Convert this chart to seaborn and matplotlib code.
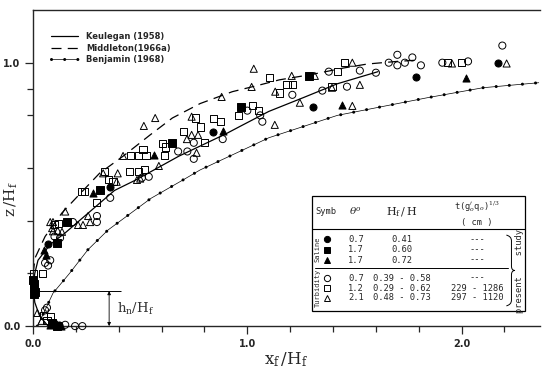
import matplotlib
matplotlib.use("Agg")
import matplotlib.pyplot as plt
from matplotlib.path import Path
from matplotlib.patches import PathPatch, Rectangle
import pandas as pd
import seaborn as sns

# theoretical profiles (x_f/H_f, z/H_f)
keulegan_x = [0.07, 0.03, 0.008, 0.0, 0.008, 0.023, 0.08, 0.15, 0.28, 0.38, 0.48, 0.68, 0.90, 0.97, 1.10, 1.26, 1.42, 1.61]
keulegan_y = [0.0, 0.04, 0.09, 0.15, 0.20, 0.25, 0.31, 0.354, 0.445, 0.515, 0.555, 0.645, 0.73, 0.76, 0.815, 0.867, 0.92, 0.966]

middleton_x = [0.0, 0.01, 0.056, 0.135, 0.228, 0.31, 0.42, 0.545, 0.65, 0.78, 0.93, 1.06, 1.15, 1.305, 1.45, 1.56, 1.70, 1.80]
middleton_y = [0.20, 0.26, 0.34, 0.43, 0.51, 0.58, 0.645, 0.725, 0.79, 0.845, 0.89, 0.916, 0.935, 0.956, 0.98, 0.995, 1.005, 1.01]

benjamin_x = [0.02, 0.05, 0.093, 0.17, 0.256, 0.35, 0.55, 0.70, 0.78, 1.03, 1.10, 1.42, 1.84, 2.10, 2.36]
benjamin_y = [0.0, 0.05, 0.125, 0.20, 0.29, 0.365, 0.485, 0.555, 0.593, 0.688, 0.715, 0.80, 0.867, 0.905, 0.924]

# measured points
saline_07_x = [2.17, 1.785, 1.305, 0.84, 0.36, 0.07, 0.10, 0.12]
saline_07_y = [1.0, 0.947, 0.833, 0.738, 0.527, 0.31, 0.01, 0.005]

saline_17sq_x = [1.287, 0.97, 0.648, 0.312, 0.16, 0.11, 0.0, 0.003, 0.005, 0.008, 0.004, 0.09, 0.11]
saline_17sq_y = [0.95, 0.833, 0.696, 0.517, 0.395, 0.315, 0.175, 0.16, 0.145, 0.13, 0.12, 0.01, 0.0]

saline_17tr_x = [2.02, 1.44, 0.885, 0.565, 0.28, 0.05, 0.06, 0.08, 0.13]
saline_17tr_y = [0.943, 0.84, 0.742, 0.65, 0.505, 0.29, 0.27, 0.005, 0.0]

turb_07_x = [2.19, 2.03, 1.91, 1.81, 1.70, 1.77, 1.70, 1.66, 1.735, 1.525, 1.60, 1.38, 1.21, 1.35, 1.465,
             1.0, 1.07, 1.06, 0.885, 0.75, 0.75, 0.72, 0.677, 0.54, 0.508, 0.36, 0.298, 0.298, 0.186,
             0.10, 0.126, 0.08, 0.07, 0.056, 0.065, 0.056, 0.196, 0.23, 0.15]
turb_07_y = [1.065, 1.005, 1.0, 0.99, 1.03, 1.02, 0.99, 1.0, 1.0, 0.97, 0.962, 0.966, 0.878, 0.894, 0.909,
             0.818, 0.776, 0.80, 0.71, 0.696, 0.635, 0.663, 0.663, 0.567, 0.563, 0.487, 0.418, 0.395, 0.395,
             0.34, 0.335, 0.25, 0.23, 0.24, 0.07, 0.06, 0.0, 0.0, 0.005]

turb_12_x = [1.935, 2.0, 1.455, 1.42, 1.105, 1.185, 1.212, 1.15, 1.395, 0.96, 1.026, 1.05, 0.76, 0.84, 0.876,
             0.78, 0.70, 0.80, 0.62, 0.606, 0.513, 0.527, 0.615, 0.455, 0.49, 0.448, 0.49, 0.522, 0.335,
             0.35, 0.373, 0.228, 0.242, 0.298, 0.10, 0.117, 0.042, 0.0, 0.08, 0.065, 0.05]
turb_12_y = [1.0, 1.0, 1.0, 0.966, 0.943, 0.916, 0.916, 0.885, 0.909, 0.80, 0.837, 0.82, 0.79, 0.787, 0.776,
             0.756, 0.738, 0.696, 0.68, 0.692, 0.67, 0.646, 0.646, 0.646, 0.646, 0.586, 0.586, 0.593, 0.586,
             0.555, 0.548, 0.51, 0.51, 0.468, 0.385, 0.39, 0.20, 0.20, 0.035, 0.02, 0.04]

turb_21_x = [2.21, 1.955, 1.49, 1.315, 1.207, 1.13, 1.245, 1.395, 1.525, 1.49, 1.128, 1.03, 1.02, 0.88,
             0.517, 0.57, 0.74, 0.74, 0.77, 0.718, 0.763, 0.42, 0.587, 0.395, 0.327, 0.39, 0.485, 0.50,
             0.15, 0.08, 0.093, 0.21, 0.233, 0.266, 0.257, 0.093, 0.115, 0.135, 0.089, 0.04, 0.02]
turb_21_y = [0.997, 0.997, 1.0, 0.95, 0.95, 0.89, 0.848, 0.905, 0.916, 0.836, 0.764, 0.977, 0.908, 0.87,
             0.76, 0.79, 0.795, 0.726, 0.726, 0.71, 0.658, 0.646, 0.608, 0.58, 0.58, 0.548, 0.555, 0.56,
             0.435, 0.395, 0.395, 0.384, 0.384, 0.395, 0.418, 0.36, 0.362, 0.358, 0.372, 0.02, 0.05]

# inset table
table_markers = ["o", "s", "^", "o", "s", "^"]
table_filled = [True, True, True, False, False, False]
table_theta = ["0.7", "1.7", "1.7", "0.7", "1.2", "2.1"]
table_hf = ["0.41", "0.60", "0.72", "0.39 - 0.58", "0.29 - 0.62", "0.48 - 0.73"]
table_t = ["---", "---", "---", "---", "229 - 1286", "297 - 1120"]

hn_level = 0.133

sns.set_style("ticks")
plt.rcParams["font.family"] = ["DejaVu Sans"]
plt.rcParams["mathtext.fontset"] = "dejavuserif"

fig = plt.figure(figsize=(5.42, 3.71), dpi=100)
ax = fig.add_axes([0.061, 0.121, 0.935, 0.852])

# curves
sns.lineplot(x=keulegan_x, y=keulegan_y, sort=False, estimator=None, color="black", lw=0.9, ax=ax)
k_line = ax.lines[-1]
sns.lineplot(x=middleton_x, y=middleton_y, sort=False, estimator=None, color="black", lw=0.9,
             linestyle=(0, (8, 5)), ax=ax)
m_line = ax.lines[-1]
sns.lineplot(x=benjamin_x, y=benjamin_y, sort=False, estimator=None, color="black", lw=0.5, ax=ax)
b_line = ax.lines[-1]
sns.lineplot(x=benjamin_x, y=benjamin_y, sort=False, estimator=None, color="black", lw=2.2,
             linestyle=(0, (0.01, 4.3)), dash_capstyle="round", ax=ax)
b_dots = ax.lines[-1]

# points
series = [
    (saline_07_x, saline_07_y, "o", True),
    (saline_17sq_x, saline_17sq_y, "s", True),
    (saline_17tr_x, saline_17tr_y, "^", True),
    (turb_07_x, turb_07_y, "o", False),
    (turb_12_x, turb_12_y, "s", False),
    (turb_21_x, turb_21_y, "^", False),
]
for xs, ys, mk, filled in series:
    df = pd.DataFrame({"x": xs, "y": ys})
    sns.scatterplot(data=df, x="x", y="y", marker=mk, s=26,
                    facecolor="black" if filled else "none",
                    edgecolor="black", linewidth=0.7, clip_on=False, zorder=3, ax=ax)

ax.set_xlim(0, 2.365)
ax.set_ylim(0, 1.2)
ax.set_xticks([0, 1, 2])
ax.set_xticklabels(["0.0", "1.0", "2.0"])
ax.set_xticks([0.2, 0.4, 0.6, 0.8, 1.2, 1.4, 1.6, 1.8, 2.2], minor=True)
ax.set_yticks([0, 1])
ax.set_yticklabels(["0.0", "1.0"])
ax.set_yticks([0.2, 0.4, 0.6, 0.8, 0.9], minor=True)
ax.tick_params(which="major", length=6, width=0.9, labelsize=7, pad=3)
ax.tick_params(which="minor", length=4, width=0.9)
for lbl in ax.get_xticklabels() + ax.get_yticklabels():
    lbl.set_fontweight("bold")
ax.spines["right"].set_visible(False)
for sp in ["left", "bottom", "top"]:
    ax.spines[sp].set_linewidth(1.0)

ax.set_xlabel(r"$\mathregular{x_f\,/H_f}$", fontsize=12, family="DejaVu Serif")
ax.set_ylabel(r"$\mathregular{z\,/H_f}$", fontsize=11, family="DejaVu Serif")
ax.yaxis.set_label_coords(-0.026, 0.40)
ax.xaxis.set_label_coords(0.5, -0.078)

# h_n / H_f marker
ax.hlines(hn_level, 0, 0.41, color="black", lw=0.7)
ax.annotate("", xy=(0.355, 0), xytext=(0.355, hn_level),
            arrowprops=dict(arrowstyle="<|-|>", lw=0.6, color="black", mutation_scale=5,
                            shrinkA=0, shrinkB=0))
ax.text(0.39, hn_level / 2, r"$\mathregular{h_n/H_f}$", fontsize=9.5, family="DejaVu Serif",
        va="center", ha="left", color="#333333")

# legend
ax.legend([k_line, m_line, (b_line, b_dots)],
          ["Keulegan (1958)", "Middleton(1966a)", "Benjamin (1968)"],
          loc="upper left", bbox_to_anchor=(0.028, 0.94), frameon=False, handlelength=3.3,
          handletextpad=1.0, labelspacing=0.3, borderaxespad=0,
          prop={"family": "DejaVu Sans", "weight": "bold", "size": 6})

# table inset
tr = ax.transAxes
ax.add_patch(Rectangle((0.550, 0.047), 0.420, 0.364, transform=tr, facecolor="white",
                       edgecolor="black", lw=0.9, zorder=4))
ax.plot([0.550, 0.970], [0.307, 0.307], transform=tr, color="black", lw=0.8, zorder=5)
ax.plot([0.556, 0.938], [0.184, 0.184], transform=tr, color="black", lw=0.7, zorder=5)
mono = dict(family="DejaVu Sans Mono", fontsize=6.3, zorder=6, transform=tr, va="center", ha="center")
ax.text(0.578, 0.361, "Symb", **mono)
ax.text(0.637, 0.364, r"$\theta^o$", **{**mono, "fontsize": 7.5})
ax.text(0.728, 0.361, r"$\mathregular{H_f\,/\,H}$", **{**mono, "fontsize": 8, "family": "DejaVu Serif"})
ax.text(0.876, 0.378, r"t(g$_o^{\prime}$q$_o$)$^{1/3}$", **mono)
ax.text(0.876, 0.328, "( cm )", **mono)
row_y = [0.275, 0.241, 0.209, 0.152, 0.120, 0.089]
for i, yy in enumerate(row_y):
    ax.plot([0.580], [yy], transform=tr, marker=table_markers[i], ms=4.5, mew=0.7,
            mfc="black" if table_filled[i] else "none", mec="black", ls="none", zorder=6,
            clip_on=False)
    ax.text(0.637, yy, table_theta[i], **mono)
    ax.text(0.728, yy, table_hf[i], **mono)
    ax.text(0.876, yy, table_t[i], **mono)
ax.text(0.561, 0.242, "Saline", rotation=90, **{**mono, "fontsize": 5})
ax.text(0.561, 0.120, "Turbidity", rotation=90, **{**mono, "fontsize": 5})
brace = Path([(0.934, 0.288), (0.944, 0.284), (0.944, 0.270), (0.944, 0.190), (0.944, 0.176),
              (0.951, 0.176), (0.944, 0.176), (0.944, 0.162), (0.944, 0.082), (0.944, 0.068),
              (0.934, 0.064)],
             [Path.MOVETO, Path.CURVE3, Path.CURVE3, Path.LINETO, Path.CURVE3, Path.CURVE3,
              Path.CURVE3, Path.CURVE3, Path.LINETO, Path.CURVE3, Path.CURVE3])
ax.add_patch(PathPatch(brace, transform=tr, facecolor="none", edgecolor="black", lw=0.7, zorder=6))
ax.text(0.960, 0.175, "present    study", rotation=90, **{**mono, "fontsize": 6.3})

fig.savefig("out.png", dpi=100)
